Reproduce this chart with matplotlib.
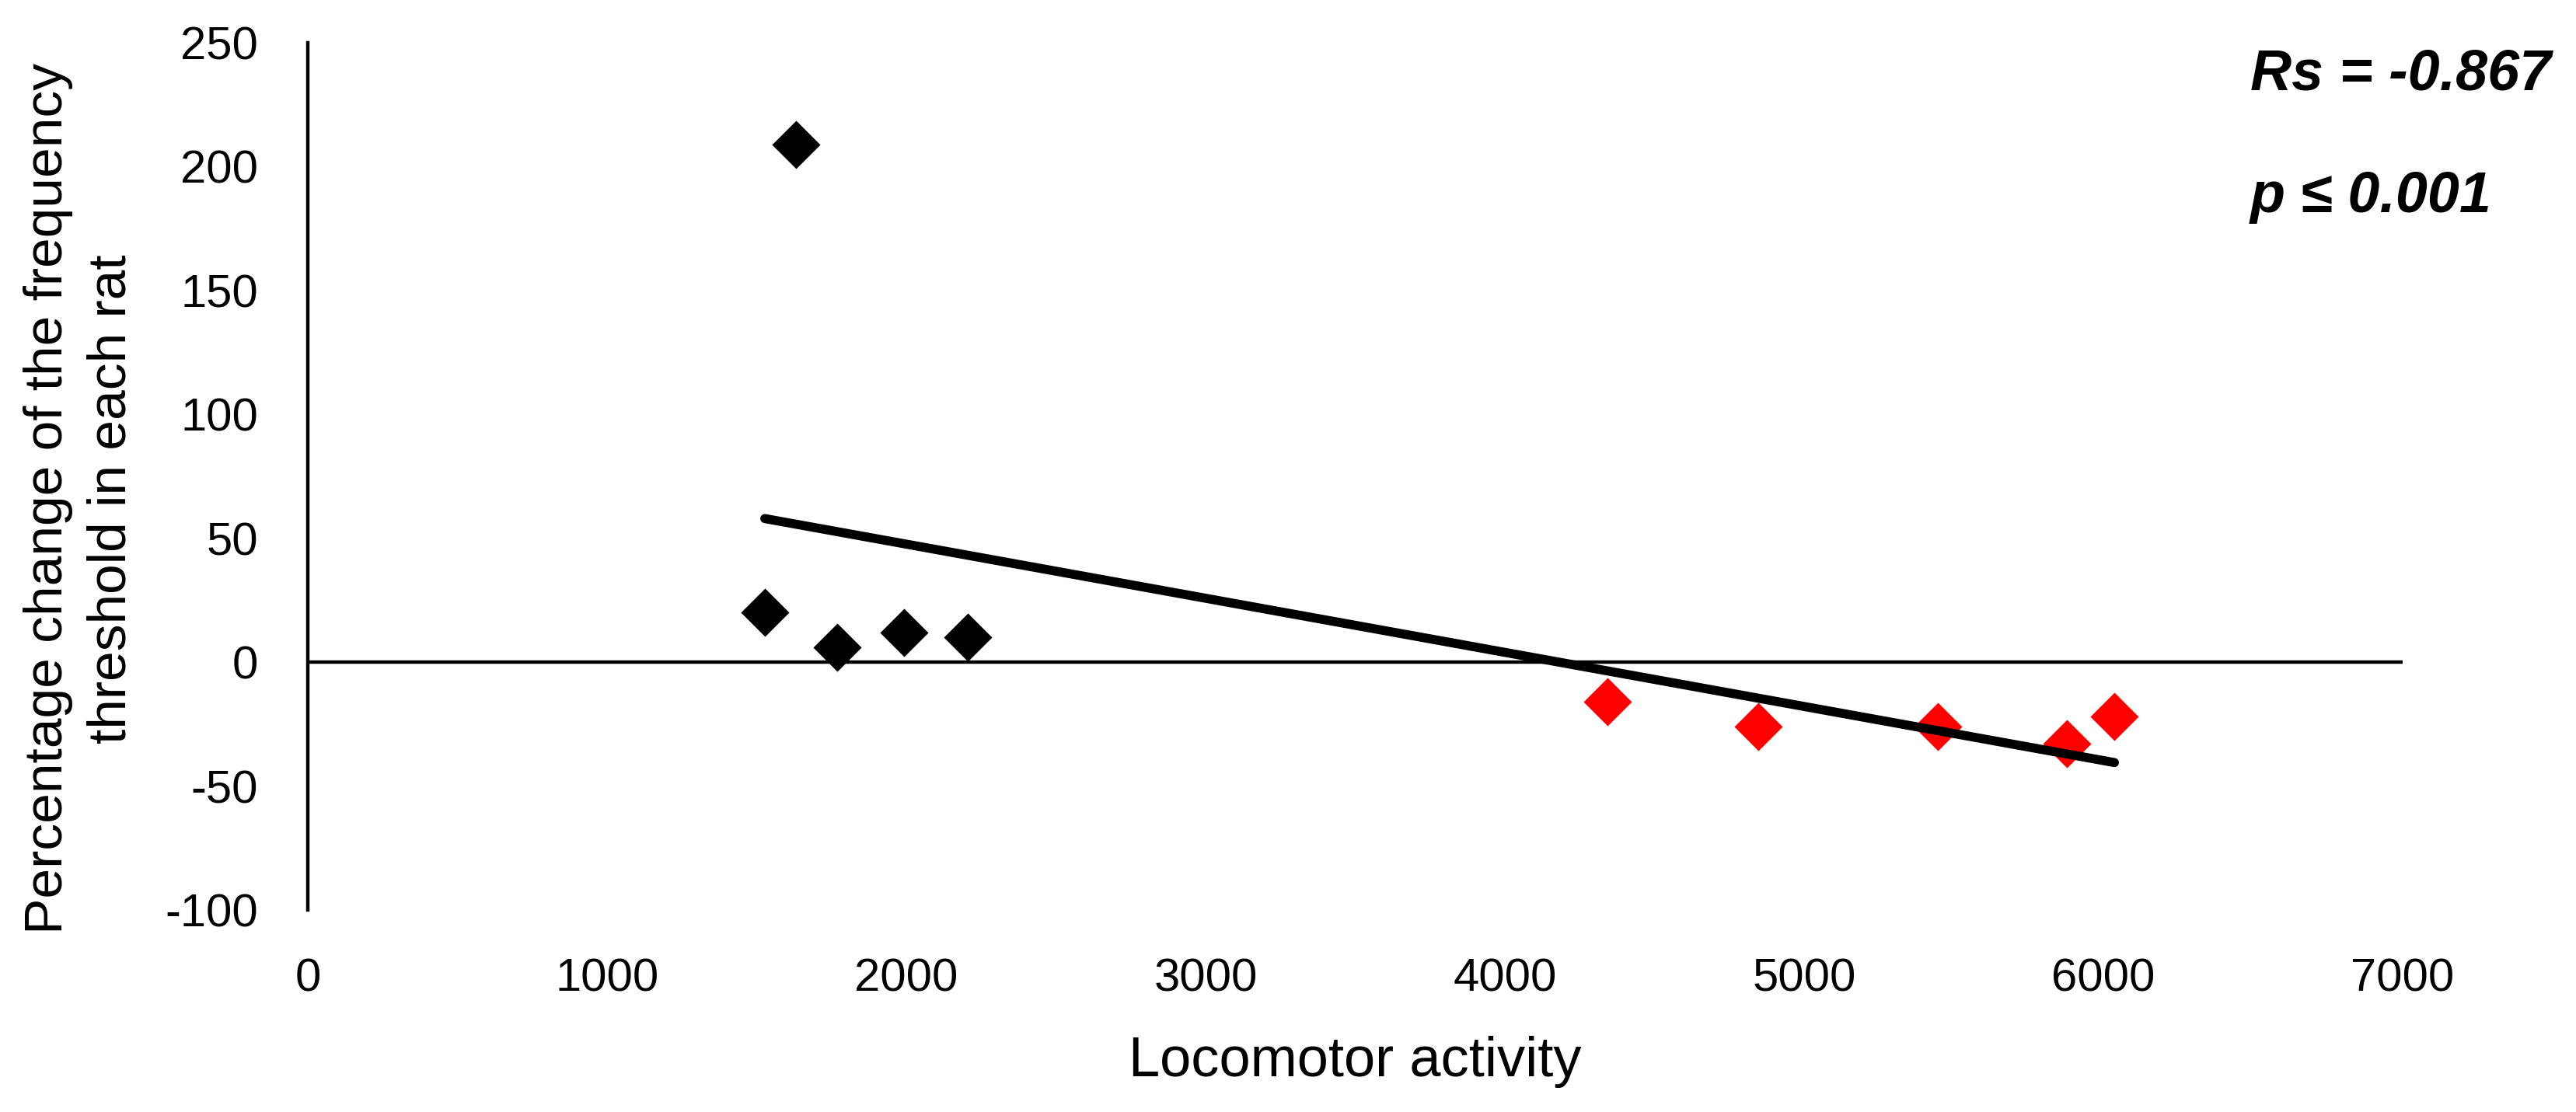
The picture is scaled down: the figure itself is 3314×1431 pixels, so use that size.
import matplotlib
matplotlib.use("Agg")
import matplotlib.pyplot as plt
import numpy as np

# Locomotor activity vs percentage change of frequency threshold
black_x = [1527, 1630, 1768, 1992, 2205]
black_y = [20, 209, 6, 12, 10]
red_x = [4342, 4848, 5448, 5879, 6037]
red_y = [-16, -26, -26, -33, -22]

x_ticks = [0, 1000, 2000, 3000, 4000, 5000, 6000, 7000]
y_ticks = [-100, -50, 0, 50, 100, 150, 200, 250]

plt.rcParams["font.family"] = ["Liberation Sans", "DejaVu Sans"]
plt.rcParams["axes.unicode_minus"] = False


def main():
    fig = plt.figure(figsize=(16.57, 7.155), dpi=200)
    ax = fig.add_axes([0.1195, 0.1817, 0.8132, 0.7799])

    ax.scatter(black_x, black_y, marker="D", s=15.8 ** 2, color="black", zorder=3, linewidths=0)
    ax.scatter(red_x, red_y, marker="D", s=15.8 ** 2, color="#FF0000", zorder=3, linewidths=0)

    # linear trendline across all points
    all_x = np.array(black_x + red_x)
    all_y = np.array(black_y + red_y)
    slope, intercept = np.polyfit(all_x, all_y, 1)
    line_x = np.array([all_x.min(), all_x.max()])
    ax.plot(line_x, slope * line_x + intercept, color="black", lw=4.2, solid_capstyle="round", zorder=4)

    ax.axhline(0, color="black", lw=1.6, zorder=2)

    ax.set_xlim(0, 7000)
    ax.set_ylim(-100, 250)
    ax.set_xticks(x_ticks)
    ax.set_yticks(y_ticks)
    ax.tick_params(axis="both", length=0, labelsize=21.5)
    ax.tick_params(axis="x", pad=22)
    ax.tick_params(axis="y", pad=23)

    for side in ["top", "right", "bottom"]:
        ax.spines[side].set_visible(False)
    ax.spines["left"].set_linewidth(1.6)

    fig.text(0.526, 0.0321, "Locomotor activity", fontsize=26, ha="center", va="baseline")
    fig.text(0.031, 0.5514, "Percentage change of the frequency\nthreshold in each rat",
             rotation=90, ha="center", va="center", fontsize=25, multialignment="center",
             linespacing=1.35)

    fig.text(0.8736, 0.9196, "Rs = -0.867", fontsize=26.5, fontweight="bold", fontstyle="italic",
             va="baseline", ha="left")
    fig.text(0.8736, 0.8092, "p \u2264 0.001", fontsize=26.5, fontweight="bold", fontstyle="italic",
             va="baseline", ha="left")

    fig.savefig("out.png", dpi=200, facecolor="white")


if __name__ == "__main__":
    main()
